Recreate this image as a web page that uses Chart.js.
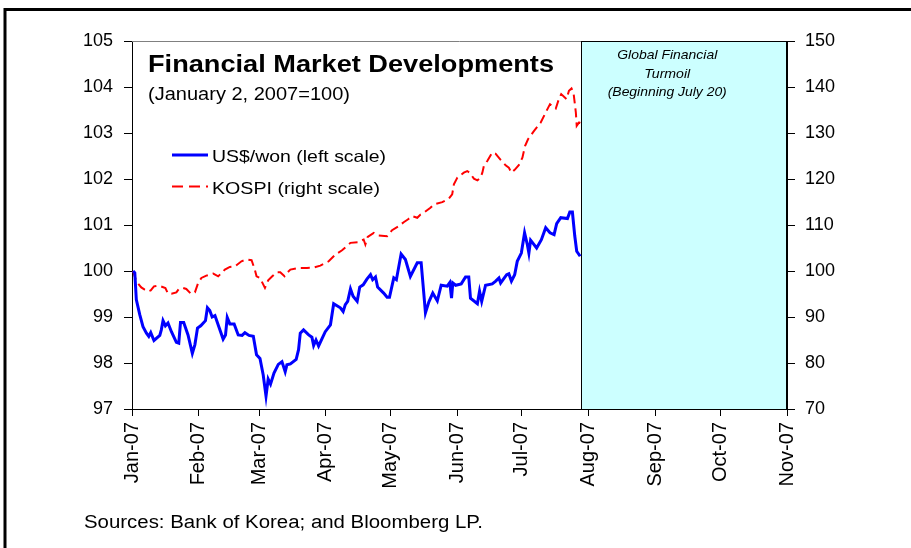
<!DOCTYPE html>
<html>
<head>
<meta charset="utf-8">
<script src="https://cdn.jsdelivr.net/npm/chart.js@4.4.1/dist/chart.umd.min.js"></script>
<style>
  html, body { margin: 0; padding: 0; background: #ffffff; }
  #wrap { width: 911px; height: 548px; position: relative; }
  canvas { display: block; }
</style>
</head>
<body>
<div id="wrap"><canvas id="c" width="911" height="548"></canvas></div>
<script>
// ---- Data (days counted from January 1, 2007) ----
const monthTickDays = [0, 31, 59, 90, 120, 151, 181, 212, 243, 273, 304];
const monthTickLabels = ['Jan-07','Feb-07','Mar-07','Apr-07','May-07','Jun-07','Jul-07','Aug-07','Sep-07','Oct-07','Nov-07'];

const usdDays = [0.5,1.3,2.0,3.6,5.1,6.7,7.8,8.7,10.2,12.9,
  13.6,14.4,15.5,16.7,18.3,20.6,21.7,22.5,24.0,26.0,
  28.0,29.2,30.4,31.9,34.1,35.0,36.1,37.2,38.5,40.3,
  42.3,43.4,44.2,45.4,47.4,49.3,51.1,52.4,54.3,56.3,
  57.8,59.4,60.9,62.2,63.2,64.3,65.9,67.9,69.6,71.1,
  71.9,73.5,76.2,77.3,78.1,79.6,82.0,83.5,84.3,85.4,
  86.6,89.7,92.1,93.6,96.7,98.0,99.0,100.1,101.4,102.6,
  104.5,105.7,107.3,109.1,110.7,111.7,113.0,114.0,116.8,118.4,
  119.5,121.5,122.7,124.9,126.9,129.2,132.4,134.2,136.2,137.8,
  139.6,141.7,143.5,146.3,147.5,148.3,148.9,150.2,152.8,154.8,
  156.3,157.1,160.3,161.3,162.3,164.1,167.2,168.8,170.3,171.1,
  173.9,174.9,176.1,177.6,178.8,180.7,182.2,183.5,184.2,185.0,
  187.8,190.0,192.0,194.0,195.9,197.1,199.0,202.1,203.2,204.4,
  205.5,206.4,208.0];
const usdValues = [100.00,99.96,99.38,99.05,98.79,98.65,98.58,98.66,98.49,98.60,
  98.72,98.92,98.81,98.87,98.68,98.45,98.43,98.88,98.88,98.61,
  98.21,98.40,98.76,98.81,98.92,99.20,99.14,99.00,99.03,98.79,
  98.52,98.61,98.99,98.85,98.85,98.61,98.60,98.66,98.60,98.58,
  98.18,98.10,97.74,97.28,97.65,97.54,97.78,97.97,98.03,97.81,
  97.96,97.98,98.08,98.29,98.65,98.72,98.61,98.56,98.38,98.50,
  98.37,98.68,98.83,99.29,99.20,99.12,99.27,99.34,99.61,99.45,
  99.34,99.65,99.70,99.83,99.92,99.81,99.87,99.65,99.52,99.43,
  99.43,99.85,99.81,100.37,100.25,99.88,100.18,100.18,99.09,99.33,
  99.52,99.35,99.69,99.67,99.75,99.41,99.74,99.69,99.72,99.87,
  99.87,99.41,99.29,99.56,99.34,99.69,99.72,99.78,99.85,99.74,
  99.92,99.94,99.78,99.92,100.21,100.39,100.83,100.57,100.39,100.67,
  100.50,100.68,100.94,100.83,100.79,101.03,101.16,101.14,101.28,101.28,
  100.76,100.43,100.32];

const kospiDays = [0.5,2.0,4.3,5.9,7.4,8.7,10.2,12.4,15.5,16.7,
  18.3,20.6,21.7,23.7,25.2,27.3,29.2,30.7,32.2,34.5,
  37.7,40.0,43.1,45.4,47.8,50.8,53.1,55.5,57.0,57.8,
  59.4,61.7,63.2,65.1,67.1,68.8,70.8,71.9,73.5,77.3,
  81.2,84.3,87.4,91.3,94.4,97.5,101.4,104.7,107.5,108.3,
  109.4,112.2,114.5,118.4,120.7,123.8,126.1,128.0,130.0,132.4,
  133.9,135.4,138.5,140.1,144.0,147.0,148.6,149.4,151.0,154.0,
  155.6,156.7,158.7,160.3,161.8,162.6,163.3,164.9,167.2,168.8,
  171.1,173.4,174.9,176.1,177.6,179.6,181.2,182.4,183.8,186.6,
  189.7,192.0,194.0,196.7,198.1,199.2,201.7,202.8,204.0,204.9,
  206.0,206.4,207.5,208.3];
const kospiValues = [100.00,97.75,96.44,95.94,95.57,95.79,96.66,96.81,96.31,95.07,
  95.07,95.35,96.09,96.31,96.09,95.07,95.35,97.40,98.49,98.99,
  99.43,98.84,100.30,100.89,101.02,102.11,102.48,102.33,100.30,98.84,
  98.49,96.31,97.97,98.84,99.71,99.71,98.84,99.58,100.30,100.67,
  100.67,100.73,101.17,102.11,103.57,104.51,106.12,106.25,106.84,105.75,
  107.43,108.30,107.71,107.56,108.87,109.74,110.61,111.20,111.92,111.57,
  112.29,112.66,113.75,114.47,114.97,115.71,116.65,118.83,120.29,121.38,
  121.73,121.38,120.07,119.70,120.29,121.38,122.82,123.91,125.74,125.48,
  124.17,122.97,122.47,121.38,121.99,123.08,124.65,127.18,128.64,130.45,
  132.28,134.46,136.27,135.33,137.36,138.45,137.36,139.17,139.69,138.82,
  134.46,131.54,132.28,132.13];

const turmoilStartDay = 208.5;
const seriesLabels = ['US$/won (left scale)', 'KOSPI (right scale)'];

// ---- Helpers ----
const FONT = '"Liberation Sans", Arial, sans-serif';
function zip(xs, ys) { return xs.map((x, i) => ({ x: x, y: ys[i] })); }
function fitText(ctx, text, x, y, font, width, align) {
  ctx.save();
  ctx.font = font;
  ctx.textAlign = align || 'left';
  ctx.textBaseline = 'alphabetic';
  const w = ctx.measureText(text).width;
  ctx.translate(x, y);
  ctx.scale(width / w, 1);
  ctx.fillStyle = '#000000';
  ctx.fillText(text, 0, 0);
  ctx.restore();
}

const decorPlugin = {
  id: 'decor',
  beforeDraw(chart) {
    const ctx = chart.ctx;
    ctx.save();
    ctx.fillStyle = '#ffffff';
    ctx.fillRect(0, 0, chart.width, chart.height);
    // outer frame
    ctx.strokeStyle = '#000000';
    ctx.lineWidth = 3;
    ctx.beginPath();
    ctx.moveTo(5, 548); ctx.lineTo(5, 9.5); ctx.lineTo(911, 9.5);
    ctx.stroke();
    ctx.restore();
  },
  beforeDatasetsDraw(chart) {
    const ctx = chart.ctx;
    const a = chart.chartArea;
    const xs = chart.scales.x;
    const bx = xs.getPixelForValue(turmoilStartDay);
    ctx.save();
    // top border of plot area
    ctx.strokeStyle = '#808080';
    ctx.lineWidth = 1;
    ctx.beginPath();
    ctx.moveTo(a.left, a.top + 0.5); ctx.lineTo(a.right, a.top + 0.5);
    ctx.stroke();
    // turmoil box
    ctx.fillStyle = '#CCFFFF';
    ctx.fillRect(bx, a.top, a.right - bx, a.bottom - a.top);
    ctx.strokeStyle = '#000000';
    ctx.lineWidth = 1;
    ctx.strokeRect(Math.round(bx) + 0.5, Math.round(a.top) + 0.5, Math.round(a.right - bx) - 1, Math.round(a.bottom - a.top));
    ctx.restore();
  },
  afterDraw(chart) {
    const ctx = chart.ctx;
    const a = chart.chartArea;
    const bx = chart.scales.x.getPixelForValue(turmoilStartDay);
    // title & subtitle
    fitText(ctx, 'Financial Market Developments', 148, 72, 'bold 24px ' + FONT, 406, 'left');
    fitText(ctx, '(January 2, 2007=100)', 148, 100, '17.5px ' + FONT, 202, 'left');
    // legend
    const ds = chart.data.datasets;
    ctx.save();
    ctx.strokeStyle = ds[0].borderColor;
    ctx.lineWidth = 3;
    ctx.beginPath(); ctx.moveTo(172, 155); ctx.lineTo(208, 155); ctx.stroke();
    ctx.strokeStyle = ds[1].borderColor;
    ctx.lineWidth = 2;
    ctx.setLineDash([11, 6]);
    ctx.beginPath(); ctx.moveTo(172, 186.5); ctx.lineTo(208, 186.5); ctx.stroke();
    ctx.restore();
    fitText(ctx, ds[0].label, 212, 162, '16.5px ' + FONT, 174, 'left');
    fitText(ctx, ds[1].label, 212, 194, '16.5px ' + FONT, 168, 'left');
    // annotation in box
    const cx = bx + 86;
    fitText(ctx, 'Global Financial', cx, 59, 'italic 13px ' + FONT, 100, 'center');
    fitText(ctx, 'Turmoil', cx, 78, 'italic 13px ' + FONT, 46, 'center');
    fitText(ctx, '(Beginning July 20)', cx, 96, 'italic 13px ' + FONT, 119, 'center');
    // sources
    fitText(ctx, 'Sources: Bank of Korea; and Bloomberg LP.', 84, 528, '18px ' + FONT, 399, 'left');
  }
};

const tickFont = { family: FONT, size: 18 };

new Chart(document.getElementById('c'), {
  type: 'line',
  data: {
    datasets: [
      {
        label: seriesLabels[0],
        data: zip(usdDays, usdValues),
        yAxisID: 'y',
        borderColor: '#0000FF',
        borderWidth: 3,
        pointRadius: 0,
        tension: 0,
        fill: false
      },
      {
        label: seriesLabels[1],
        data: zip(kospiDays, kospiValues),
        yAxisID: 'y2',
        borderColor: '#FF0000',
        borderWidth: 2,
        borderDash: [9, 5],
        pointRadius: 0,
        tension: 0,
        fill: false
      }
    ]
  },
  options: {
    responsive: false,
    devicePixelRatio: 1,
    animation: false,
    layout: { padding: { top: 41, left: 0, right: 0, bottom: 0 } },
    plugins: { legend: { display: false }, tooltip: { enabled: false }, title: { display: false } },
    scales: {
      x: {
        type: 'linear',
        min: 0,
        max: 304,
        afterBuildTicks(scale) { scale.ticks = monthTickDays.map(v => ({ value: v })); },
        afterFit(scale) { scale.height = 139; },
        grid: { drawOnChartArea: false, drawTicks: true, tickLength: 7, tickColor: '#000000' },
        border: { display: true, color: '#000000', width: 1 },
        ticks: {
          autoSkip: false,
          minRotation: 90,
          maxRotation: 90,
          padding: 6,
          color: '#000000',
          font: { family: FONT, size: 20 },
          callback(value) {
            const i = monthTickDays.indexOf(value);
            return i >= 0 ? monthTickLabels[i] : '';
          }
        }
      },
      y: {
        position: 'left',
        min: 97,
        max: 105,
        afterFit(scale) { scale.width = 132; },
        grid: { drawOnChartArea: false, drawTicks: true, tickLength: 8, tickColor: '#000000' },
        border: { display: true, color: '#000000', width: 1 },
        ticks: { stepSize: 1, padding: 11, color: '#000000', font: tickFont }
      },
      y2: {
        position: 'right',
        min: 70,
        max: 150,
        afterFit(scale) { scale.width = 124; },
        grid: { drawOnChartArea: false, drawTicks: true, tickLength: 8, tickColor: '#000000' },
        border: { display: true, color: '#000000', width: 1 },
        ticks: { stepSize: 10, padding: 10, color: '#000000', font: tickFont }
      }
    }
  },
  plugins: [decorPlugin]
});
</script>
</body>
</html>
